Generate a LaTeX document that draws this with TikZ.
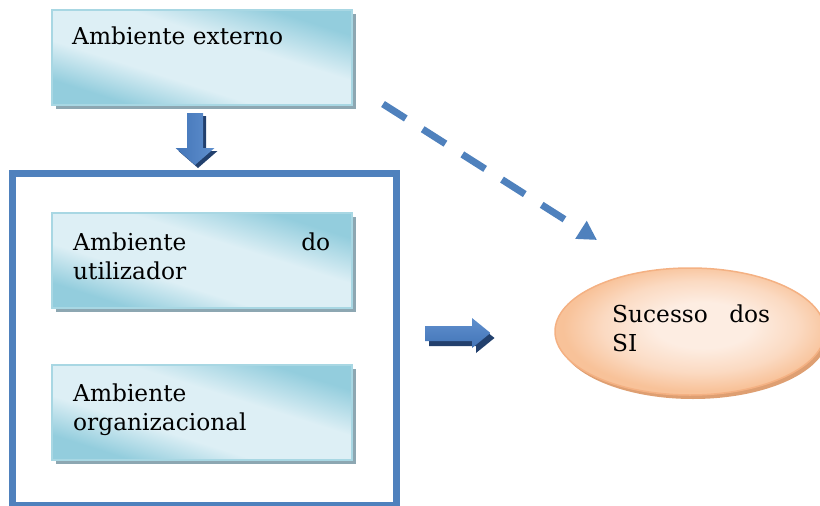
\documentclass[tikz,border=0pt]{standalone}
\usepackage{fontspec}
\setmainfont{DejaVu Serif}
\usetikzlibrary{arrows.meta,shadows,shapes.geometric}

\definecolor{frameblue}{HTML}{4F81BD}
\definecolor{boxdark}{HTML}{93CDDD}
\definecolor{boxlight}{HTML}{DDEFF5}
\definecolor{boxedge}{HTML}{A8D7E3}
\definecolor{boxshadow}{HTML}{8DA7B2}
\definecolor{arrowlight}{HTML}{A9C4EA}
\definecolor{arrowmid}{HTML}{5F8FCD}
\definecolor{arrowdark}{HTML}{4375B8}
\definecolor{arrowshadow}{HTML}{22406D}
\definecolor{peachedge}{HTML}{F4B183}
\definecolor{peachdark}{HTML}{F8C299}
\definecolor{peachmid}{HTML}{FBDAC2}
\definecolor{peachlight}{HTML}{FDEDE2}
\definecolor{peachshadow}{HTML}{DE9F72}

% cyan box fill: darker towards two opposite corners, pale along the diagonal
\pgfdeclareverticalshading{envglow}{100bp}{%
  color(0bp)=(boxdark); color(27bp)=(boxdark); color(40bp)=(boxlight);
  color(58bp)=(boxlight); color(73bp)=(boxdark); color(100bp)=(boxdark)}

% soft peach glow for the ellipse, lighter slightly above and right of centre
\pgfdeclareradialshading{peachglow}{\pgfpoint{3bp}{3bp}}{%
  color(0bp)=(peachlight); color(9bp)=(peachlight); color(18bp)=(peachmid);
  color(25bp)=(peachdark); color(50bp)=(peachdark)}

\tikzset{
  envbox/.style={rectangle, minimum width=300pt, minimum height=95pt,
    inner sep=0pt, draw=boxedge, line width=1.5pt,
    drop shadow={shadow xshift=4pt, shadow yshift=-4pt, fill=boxshadow, opacity=1},
    shading=envglow, shading angle=-17.6},
  groupframe/.style={rectangle, minimum width=384pt, minimum height=332pt,
    inner sep=0pt, draw=frameblue, line width=7pt},
  goal/.style={ellipse, minimum width=270pt, minimum height=127pt,
    inner sep=0pt, draw=peachedge, line width=1.5pt,
    drop shadow={shadow xshift=3pt, shadow yshift=-4pt, fill=peachshadow, opacity=1},
    shading=peachglow},
  lbl/.style={font=\fontsize{23.3}{29.5}\selectfont, inner sep=0pt,
    anchor=base west, align=left},
  dasharrow/.style={draw=frameblue, line width=7pt, line cap=butt,
    dash pattern=on 27pt off 20pt,
    -{Triangle[length=19pt, width=20pt]}},
  blockshadow/.style={fill=arrowshadow},
}

\begin{document}
\begin{tikzpicture}[x=1pt, y=-1pt]
  \useasboundingbox (0,0) rectangle (820,506);

  % outer frame holding the two inner environments
  \node[groupframe] (grp) at (204.5,339.5) {};

  % environment boxes
  \node[envbox] (ext) at (202,57.5) {};
  \node[envbox] (usr) at (202,260.5) {};
  \node[envbox] (org) at (202,412.5) {};

  \node[lbl] (extlbl) at (72,45) {Ambiente externo};
  \node[lbl, text width=257pt] (usrlbl) at (73,250) {Ambiente\hfill do\\utilizador};
  \node[lbl, text width=257pt] (orglbl) at (73,401) {Ambiente\\organizacional};

  % success ellipse
  \node[goal] (goal) at (690,331.5) {};
  \node[lbl, text width=158pt] (goallbl) at (612,322) {Sucesso\hfill dos\\SI};

  % block arrow from the external environment down into the frame
  \fill[blockshadow, shift={(3,3)}]
    (187,113) -- (203,113) -- (203,148) -- (214.5,148) -- (195,165)
    -- (175.5,148) -- (187,148) -- cycle;
  \shade[left color=arrowdark, middle color=arrowlight, right color=arrowmid]
    (187,113) -- (203,113) -- (203,148) -- (214.5,148) -- (195,165)
    -- (175.5,148) -- (187,148) -- cycle;

  % block arrow from the frame towards the ellipse
  \fill[blockshadow, shift={(4,5)}]
    (425,326) -- (472,326) -- (472,318) -- (490.5,333) -- (472,348)
    -- (472,341) -- (425,341) -- cycle;
  \shade[top color=arrowmid, middle color=arrowlight, bottom color=arrowdark]
    (425,326) -- (472,326) -- (472,318) -- (490.5,333) -- (472,348)
    -- (472,341) -- (425,341) -- cycle;

  % dashed influence arrow
  \coordinate (dstart) at (383,104);
  \coordinate (dend) at (597,240);
  \draw[dasharrow] (dstart) -- (dend);
\end{tikzpicture}
\end{document}
